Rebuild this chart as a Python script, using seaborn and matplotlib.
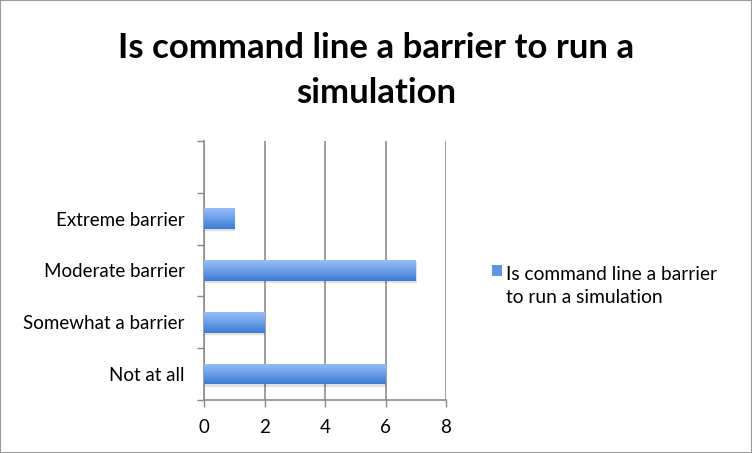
import matplotlib
matplotlib.use("Agg")
import matplotlib.pyplot as plt
import seaborn as sns
import numpy as np
import pandas as pd
from matplotlib.patches import Rectangle
from matplotlib.colors import LinearSegmentedColormap

# Datos del gráfico
categorias = ["Extreme barrier", "Moderate barrier", "Somewhat a barrier", "Not at all"]
valores = [1, 7, 2, 6]
serie_1 = "Is command line a barrier"
serie_2 = "to run a simulation"
titulo_1 = "Is command line a barrier to run a"
titulo_2 = "simulation"
xticks = [0, 2, 4, 6, 8]

sns.set_theme(style="white")
plt.rcParams["font.family"] = ["Lato", "DejaVu Sans"]
plt.rcParams["text.color"] = "black"

df = pd.DataFrame({"categoria": categorias, "valor": valores})

fig = plt.figure(figsize=(7.52, 4.53), dpi=100)
ax = fig.add_axes([204 / 752, 1 - 400 / 453, 242 / 752, 259 / 453])

azul = "#5b93e0"
sns.barplot(data=df, x="valor", y="categoria", order=categorias, orient="h",
            color=azul, width=0.4, saturation=1, linewidth=0, ax=ax, zorder=3)

# degradado tipo Excel dentro de cada barra
degradado = LinearSegmentedColormap.from_list("azul", ["#98bdf6", "#6a9fe8", "#3e7bd1"])
grad = np.linspace(0, 1, 64).reshape(-1, 1)
for barra in list(ax.patches):
    x0, y0 = barra.get_x(), barra.get_y()
    w, h = barra.get_width(), barra.get_height()
    # sombra suave
    ax.add_patch(Rectangle((x0 + 0.03, y0 + 0.04), w, h, facecolor="#000000",
                           alpha=0.12, edgecolor="none", zorder=2.5))
    im = ax.imshow(grad, cmap=degradado, aspect="auto", extent=(x0, x0 + w, y0 + h, y0),
                   origin="upper", zorder=3.5, interpolation="bilinear")
    im.set_clip_path(barra)

ax.set_xlim(0, 8)
ax.set_xticks(xticks)
ax.set_ylim(3.5, -1.5)
ax.set_yticks(range(len(categorias)))
ax.set_yticklabels(categorias)
ax.set_yticks([-1.5, -0.5, 0.5, 1.5, 2.5, 3.5], minor=True)
ax.tick_params(axis="y", which="major", length=0, pad=14, labelsize=13.5, labelcolor="black")
ax.tick_params(axis="y", which="minor", length=5, width=1, color="#888888", direction="out", left=True)
ax.tick_params(axis="x", length=5, width=1, color="#888888", direction="out", bottom=True,
               labelsize=13.5, labelcolor="black", pad=9)
ax.set_xlabel("")
ax.set_ylabel("")

ax.grid(axis="x", color="#8c8c8c", linewidth=1.2, zorder=0)
ax.set_axisbelow(True)
for s in ["top", "right"]:
    ax.spines[s].set_visible(False)
for s in ["left", "bottom"]:
    ax.spines[s].set_color("#8c8c8c")
    ax.spines[s].set_linewidth(1.2)

fig.text(0.5, 1 - 58 / 453, titulo_1, ha="center", va="baseline", fontsize=25,
         fontweight="bold", color="black")
fig.text(0.5, 1 - 103 / 453, titulo_2, ha="center", va="baseline", fontsize=25,
         fontweight="bold", color="black")

# leyenda: cuadro alineado con la primera línea, como en Excel
fig.patches.append(Rectangle((492 / 752, 1 - 276 / 453), 10 / 752, 11 / 453,
                             transform=fig.transFigure, facecolor="#5f95e2",
                             edgecolor="none"))
fig.text(506 / 752, 1 - 280 / 453, serie_1, ha="left", va="baseline", fontsize=13.8)
fig.text(506 / 752, 1 - 303 / 453, serie_2, ha="left", va="baseline", fontsize=13.8)

fig.patches.append(Rectangle((0, 0), 1, 1, transform=fig.transFigure, fill=False,
                             edgecolor="#999999", linewidth=1.5))

fig.savefig("out.png", dpi=100)
